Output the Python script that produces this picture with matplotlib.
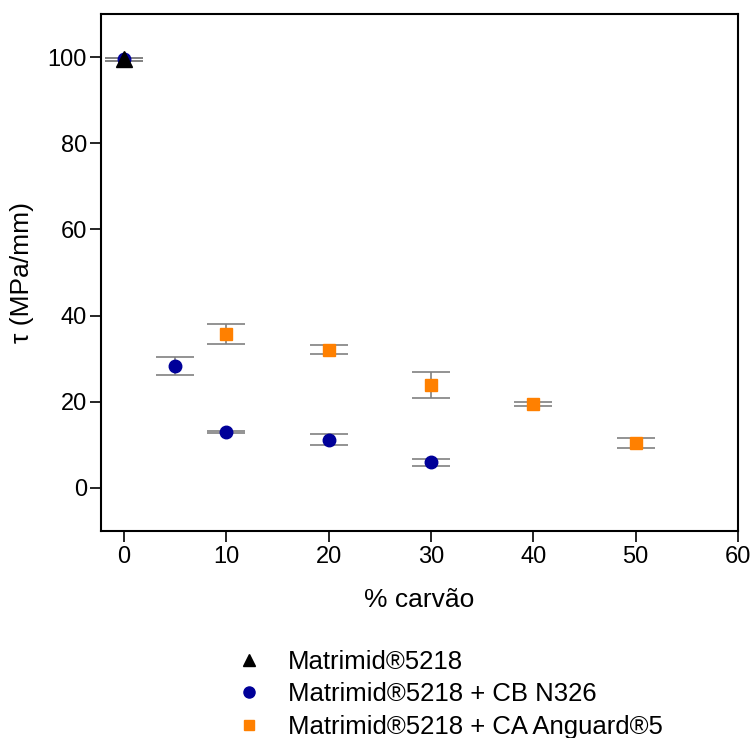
import numpy as np
import matplotlib.pyplot as plt

plt.rcParams['font.family'] = ['Liberation Sans', 'DejaVu Sans']

# Matrimid only
x_pure = [0]
y_pure = [99.5]
e_pure = [0.4]

# Matrimid + CB N326
x_cb = [0, 5, 10, 20, 30]
y_cb = [99.5, 28.3, 13.0, 11.2, 6.0]
e_cb = [0.4, 2.0, 0.3, 1.3, 0.8]

# Matrimid + CA Anguard 5
x_ca = [10, 20, 30, 40, 50]
y_ca = [35.8, 32.1, 23.8, 19.4, 10.4]
e_ca = [2.3, 1.1, 3.0, 0.5, 1.1]

fig = plt.figure(figsize=(7.51, 7.38), dpi=100)
ax = fig.add_axes([0.1345, 0.2805, 0.848, 0.7005])

ekw = dict(ecolor='#808080', elinewidth=1.2, capsize=14, capthick=1.2, linestyle='none')
ax.errorbar(x_ca, y_ca, yerr=e_ca, marker='s', ms=8, color='#ff8000', mec='#ff8000', **ekw)
ax.errorbar(x_cb, y_cb, yerr=e_cb, marker='o', ms=9, color='#000099', mec='#000099', **ekw)
ax.errorbar(x_pure, y_pure, yerr=e_pure, marker='^', ms=11, color='black', **ekw)

ax.set_xlim(-2.25, 60)
ax.set_ylim(-10, 110)
ax.set_xticks([0, 10, 20, 30, 40, 50, 60])
ax.set_yticks([0, 20, 40, 60, 80, 100])
ax.tick_params(direction='out', length=8, width=1.2, labelsize=17, pad=3)
ax.tick_params(axis='y', pad=2)
for s in ax.spines.values():
    s.set_linewidth(1.5)
ax.set_xlabel('% carvão', fontsize=19, labelpad=14)
ax.set_ylabel('τ (MPa/mm)', fontsize=19, labelpad=10)

h1 = plt.Line2D([], [], marker='^', ms=9, color='black', ls='none')
h2 = plt.Line2D([], [], marker='o', ms=8, color='#000099', ls='none')
h3 = plt.Line2D([], [], marker='s', ms=7, color='#ff8000', ls='none')
fig.legend([h1, h2, h3],
           ['Matrimid®5218', 'Matrimid®5218 + CB N326', 'Matrimid®5218 + CA Anguard®5'],
           loc='upper left', bbox_to_anchor=(0.298, 0.133), frameon=False,
           fontsize=18.5, handletextpad=0.9, labelspacing=0.32, borderaxespad=0,
           handlelength=1.2)

fig.savefig('out.png', dpi=100)
